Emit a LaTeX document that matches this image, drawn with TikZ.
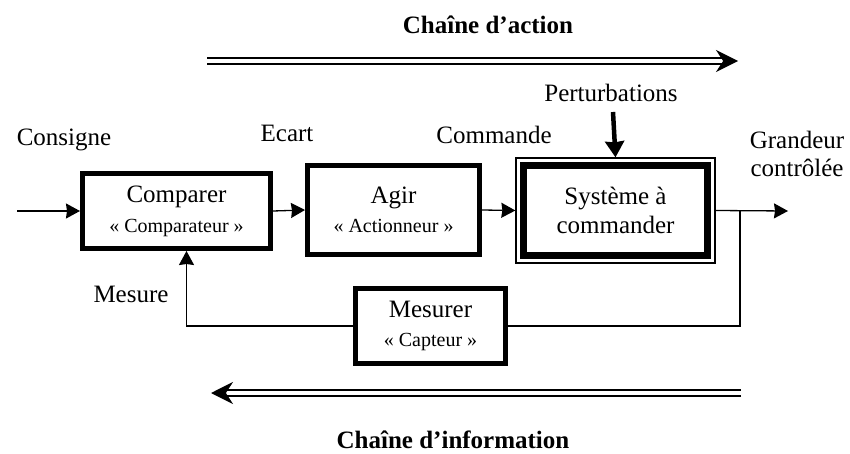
\documentclass[tikz,border=0pt]{standalone}
\usepackage{fontspec}
\setmainfont{Liberation Serif}
\usepackage{tikz}
\usetikzlibrary{arrows.meta,positioning,fit}
\newcommand{\rolefont}{\fontsize{20}{24}\selectfont}
\tikzset{
  blk/.style={draw=black, line width=5pt, fill=white, align=center,
    inner sep=2pt, font=\fontsize{25}{29}\selectfont},
  lbl/.style={align=center, inner sep=1pt, font=\fontsize{25}{28}\selectfont},
  ttl/.style={inner sep=1pt, font=\fontsize{25}{28}\selectfont\bfseries},
  arr/.style={-{Stealth[length=14pt,width=15pt,inset=1pt]}, line width=1.3pt, draw=black},
  ln/.style={line width=1.3pt, draw=black},
  chain/.style={double, double distance=3.5pt, line width=2pt,
    -{Stealth[length=22pt,width=22pt]}}
}
\begin{document}
\begin{tikzpicture}[x=1pt,y=-1pt]
\useasboundingbox (0,0) rectangle (850,454);

\node[ttl] (act) at (488,25) {Chaîne d’action};
\node[ttl] (inf) at (453,440) {Chaîne d’information};

\node[blk, minimum width=188pt, minimum height=75pt] (cmp) at (176.5,211)
  {Comparer\\[1pt]{\rolefont « Comparateur »}};
\node[blk, minimum width=172pt, minimum height=89pt] (agir) at (393.5,210)
  {Agir\\[0pt]{\rolefont « Actionneur »}};
\node[blk, line width=7pt, minimum width=184pt, minimum height=90pt] (sys) at (615.5,210.5)
  {Système à\\commander};
\node[draw, line width=1.3pt, fit=(sys), inner sep=4pt] (frame) {};
\node[blk, minimum width=150pt, minimum height=75pt] (mes) at (430.5,326)
  {Mesurer\\[0pt]{\rolefont « Capteur »}};

\node[lbl] (cons) at (64,140) {Consigne};
\node[lbl] (ecart) at (287,133) {Ecart};
\node[lbl] (comm) at (494,135) {Commande};
\node[lbl] (pert) at (611,93) {Perturbations};
\node[lbl] (grand) at (797,154) {Grandeur\\contrôlée};
\node[lbl] (mesure) at (131,294) {Mesure};

\coordinate (in) at (17,211);
\coordinate (out) at (788,211);
\coordinate (br) at (740,211);
\coordinate (ptop) at (613,112);
\coordinate (a1) at (207,61);
\coordinate (a2) at (738,61);
\coordinate (b1) at (741,393);
\coordinate (b2) at (211,393);

\draw[arr] (in) -- (cmp.west);
\draw[arr] (cmp.east) -- (agir.west);
\draw[arr] (agir.east) -- (frame.west);
\draw[arr] (frame.east) -- (out);
\draw[line width=4.5pt, -{Stealth[length=16pt,width=19pt,inset=1pt]}] (ptop) -- (frame.north);
\draw[ln] (br) |- (mes.east);
\draw[arr] (mes.west) -| ([xshift=10pt]cmp.south);

\draw[chain] (a1) -- (a2);
\draw[chain] (b1) -- (b2);
\end{tikzpicture}
\end{document}
